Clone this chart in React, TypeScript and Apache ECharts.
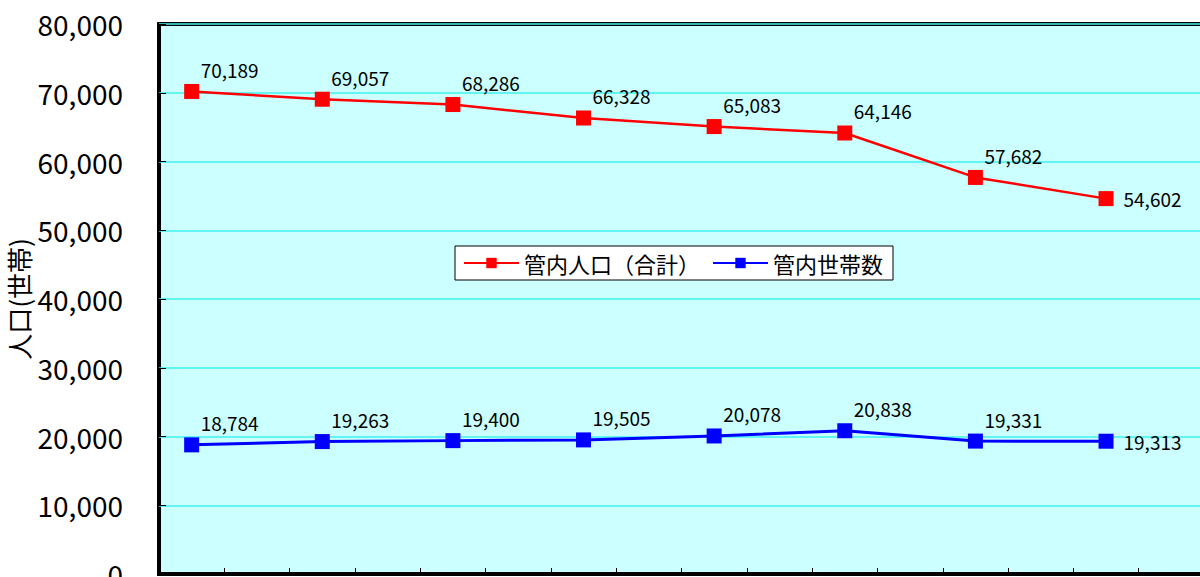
import React, { useEffect, useRef } from "react";
import * as echarts from "echarts";

const categories = ["1", "2", "3", "4", "5", "6", "7", "8", "9", "10", "11", "12", "13", "14", "15", "16"];
const populationValues = [70189, null, 69057, null, 68286, null, 66328, null, 65083, null, 64146, null, 57682, null, 54602, null];
const householdValues = [18784, null, 19263, null, 19400, null, 19505, null, 20078, null, 20838, null, 19331, null, 19313, null];
const seriesNames = ["管内人口（合計）", "管内世帯数"];
const yAxisName = "人口(世帯)";

const FONT = "'Noto Sans CJK JP', 'Liberation Sans', sans-serif";

function buildData(values: (number | null)[]) {
  const lastIdx = values.reduce((acc: number, v, i) => (v !== null ? i : acc), -1);
  return values.map((v, i) =>
    i === lastIdx && v !== null
      ? { value: v, label: { position: "right", distance: 10, offset: [0, 0] } }
      : v
  );
}

export default function App() {
  const ref = useRef<HTMLDivElement>(null);
  useEffect(() => {
    if (!ref.current) return;
    const chart = echarts.init(ref.current, null, { renderer: "svg" });
    const labelCfg = {
      show: true,
      position: "top",
      distance: 5,
      offset: [38, 0],
      color: "#000",
      fontSize: 19,
      fontFamily: FONT,
      formatter: (p: any) => Number(p.value).toLocaleString("en-US"),
    };
    chart.setOption({
      animation: false,
      backgroundColor: "#fff",
      textStyle: { fontFamily: FONT },
      grid: {
        left: 159,
        top: 24,
        width: 1045,
        height: 550,
        show: true,
        backgroundColor: "#CCFFFF",
        borderColor: "#000",
        borderWidth: 4,
        containLabel: false,
        outerBoundsMode: "none",
      },
      legend: {
        left: 455,
        top: 246,
        width: 440,
        height: 36,
        padding: [6, 10, 6, 8],
        backgroundColor: "#fff",
        borderColor: "#000",
        borderWidth: 1,
        itemWidth: 55,
        itemHeight: 13,
        itemGap: 12,
        textStyle: { fontSize: 22, color: "#000", fontFamily: FONT },
        data: seriesNames,
      },
      xAxis: {
        type: "category",
        data: categories,
        boundaryGap: true,
        axisLine: { show: true, lineStyle: { color: "#000", width: 4 } },
        axisTick: { show: true, inside: true, length: 6, interval: 0, lineStyle: { color: "#000", width: 1 } },
        axisLabel: { show: false },
        splitLine: { show: false },
      },
      yAxis: {
        type: "value",
        min: 0,
        max: 80000,
        interval: 10000,
        name: yAxisName,
        nameLocation: "middle",
        nameGap: 128,
        nameRotate: 90,
        nameMoveOverlap: false,
        nameTextStyle: { fontSize: 26, color: "#000", fontFamily: FONT },
        axisLine: { show: false },
        axisTick: { show: true, inside: true, length: 7, lineStyle: { color: "#000", width: 1 } },
        axisLabel: {
          fontSize: 28,
          color: "#000",
          margin: 36,
          fontFamily: FONT,
          formatter: (v: number) => v.toLocaleString("en-US"),
        },
        splitLine: { show: true, lineStyle: { color: "#40F0F0", width: 1.5 } },
      },
      series: [
        {
          name: seriesNames[0],
          type: "line",
          data: buildData(populationValues),
          connectNulls: true,
          symbol: "rect",
          symbolSize: 15,
          itemStyle: { color: "#FF0000" },
          lineStyle: { color: "#FF0000", width: 2.5 },
          label: labelCfg,
        },
        {
          name: seriesNames[1],
          type: "line",
          data: buildData(householdValues),
          connectNulls: true,
          symbol: "rect",
          symbolSize: 15,
          itemStyle: { color: "#0000FF" },
          lineStyle: { color: "#0000FF", width: 3 },
          label: labelCfg,
        },
      ],
    });
    return () => chart.dispose();
  }, []);
  return (
    <div
      ref={ref}
      style={{ position: "absolute", left: 0, top: 0, width: 1210, height: 620 }}
    />
  );
}
